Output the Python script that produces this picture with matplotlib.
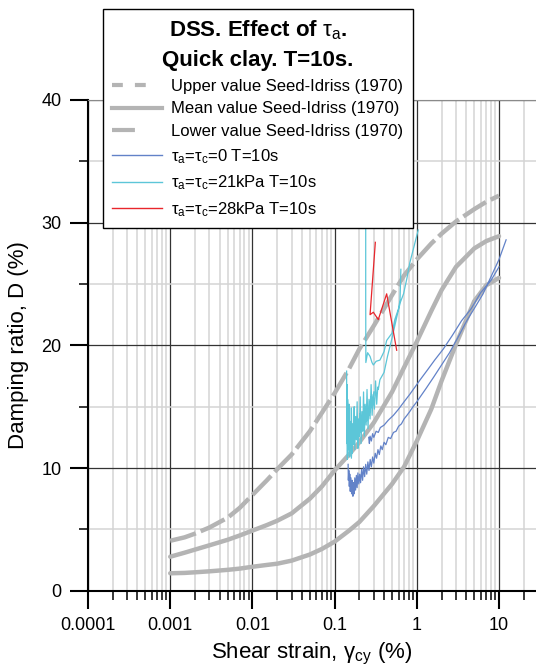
import numpy as np
import matplotlib.pyplot as plt
from matplotlib.lines import Line2D
from matplotlib.ticker import LogLocator, FuncFormatter, MultipleLocator, NullFormatter

plt.rcParams['font.family'] = ['Liberation Sans', 'DejaVu Sans']
plt.rcParams['mathtext.fontset'] = 'custom'
plt.rcParams['mathtext.rm'] = 'Liberation Sans'
plt.rcParams['mathtext.it'] = 'Liberation Sans:italic'
plt.rcParams['mathtext.bf'] = 'Liberation Sans:bold'

# Seed-Idriss (1970) damping range
si_strain = [0.001, 0.0015, 0.002, 0.003, 0.005, 0.007, 0.01, 0.015, 0.02, 0.03, 0.05, 0.07,
             0.1, 0.15, 0.2, 0.3, 0.5, 0.7, 1, 1.5, 2, 3, 5, 7, 10]
si_upper = [4.07, 4.35, 4.65, 5.15, 5.95, 6.75, 7.8, 9.0, 9.9, 11.1, 13.0, 14.5,
            16.1, 18.1, 19.7, 21.6, 24.1, 25.7, 27.0, 28.3, 29.1, 30.1, 31.1, 31.7, 32.2]
si_mean = [2.77, 3.1, 3.35, 3.7, 4.15, 4.5, 4.9, 5.35, 5.7, 6.3, 7.5, 8.5,
           9.8, 11.1, 12.1, 13.7, 16.2, 18.2, 20.3, 22.8, 24.5, 26.4, 27.9, 28.5, 28.9]
si_lower = [1.42, 1.45, 1.5, 1.58, 1.7, 1.8, 1.95, 2.1, 2.2, 2.45, 2.95, 3.4,
            4.0, 4.9, 5.6, 6.9, 8.7, 10.1, 12.2, 14.8, 17.1, 20.1, 23.6, 24.9, 25.5]

# DSS test, tau_a = tau_c = 0 (two loops, separated by nan)
t0_strain = [0.146, 0.147, 0.149, 0.151, 0.153, 0.155, 0.158, 0.161, 0.164, 0.167, 0.170, 0.173,
             0.176, 0.180, 0.184, 0.188, 0.192, 0.197, 0.202, 0.207, 0.213, 0.219, 0.225, 0.232,
             0.239, 0.246, 0.254, 0.262, 0.271, 0.280, 0.290, 0.300, 0.312, 0.324, 0.337, 0.350,
             0.365, 0.380, 0.40, 0.42, 0.45, 0.48, 0.52, 0.56, 0.60, 0.65, 0.70, 0.76, 0.82, 0.90,
             1.0, 1.1, 1.3, 1.6, 2.0, 2.5, 3.2, 4.05, 5.0, 6.4, 8.0, 10.0, 12.2,
             np.nan,
             0.26, 0.265, 0.27, 0.28, 0.29, 0.30, 0.32, 0.34, 0.36, 0.40, 0.45, 0.52, 0.60, 0.70,
             0.82, 0.95, 1.1, 1.35, 1.65, 2.1, 2.7, 3.5, 4.6, 6.0, 8.0, 10.0]
t0_damp = [10.3, 9.0, 9.8, 8.5, 9.5, 8.1, 9.2, 7.9, 9.0, 7.7, 8.8, 7.9,
           9.2, 8.2, 9.4, 8.4, 9.6, 8.7, 9.5, 8.8, 9.9, 9.0, 10.1, 9.3,
           10.3, 9.5, 10.5, 9.8, 10.7, 10.1, 10.9, 10.4, 11.2, 10.8, 11.5, 11.1,
           11.8, 11.5, 12.1, 11.9, 12.5, 12.4, 12.9, 13.0, 13.4, 13.6, 14.0, 14.3, 14.6, 15.0,
           15.4, 15.8, 16.5, 17.4, 18.4, 19.4, 20.7, 22.0, 23.0, 24.2, 25.6, 27.0, 28.6,
           np.nan,
           12.5, 12.0, 12.6, 12.2, 12.8, 12.5, 13.0, 12.9, 13.3, 13.5, 13.9, 14.3, 14.8, 15.4,
           16.0, 16.6, 17.2, 18.0, 18.8, 19.7, 20.8, 22.0, 23.0, 24.3, 25.3, 26.4]

# DSS test, tau_a = tau_c = 21 kPa
t21_strain = [0.140, 0.141, 0.142, 0.143, 0.144, 0.146, 0.148, 0.150, 0.152, 0.155, 0.158, 0.160,
              0.163, 0.166, 0.170, 0.173, 0.176, 0.180, 0.184, 0.188, 0.192, 0.196, 0.200, 0.205,
              0.210, 0.215, 0.220, 0.225, 0.230, 0.236, 0.242, 0.248, 0.255, 0.262, 0.270, 0.278,
              0.286, 0.295, 0.305, 0.315, 0.325, 0.335, 0.340, 0.356, 0.40, 0.44, 0.50, 0.57,
              0.63, 0.69, 0.76, 0.82, 0.92, 1.04,
              np.nan,
              0.142, 0.145, 0.148, 0.152, 0.156, 0.160, 0.165, 0.170, 0.176, 0.182, 0.188, 0.195,
              0.202, 0.210, 0.218, 0.226, 0.235, 0.244, 0.254, 0.264, 0.275, 0.287, 0.300,
              np.nan,
              0.239, 0.239, 0.240, 0.252, 0.27, 0.285, 0.296, 0.32, 0.356, 0.40, 0.43, 0.50, 0.54,
              0.60, 0.625, 0.64]
t21_damp = [17.9, 12.0, 16.8, 10.7, 15.6, 14.5, 11.5, 15.2, 10.9, 13.8, 11.8, 14.9,
            11.2, 13.6, 12.2, 15.0, 11.5, 14.2, 12.3, 15.4, 11.6, 14.0, 12.6, 15.8,
            12.0, 14.6, 13.0, 16.2, 12.6, 15.0, 13.5, 16.4, 13.2, 15.6, 14.0, 16.8,
            14.3, 16.0, 14.8, 17.1, 15.2, 16.6, 16.4, 17.2, 17.8, 19.1, 20.6, 22.3,
            23.5, 24.2, 25.5, 26.7, 28.0, 29.4,
            np.nan,
            13.2, 11.0, 14.0, 11.6, 13.1, 10.8, 12.8, 11.9, 13.9, 12.4, 13.3, 12.1,
            14.4, 12.9, 14.1, 13.3, 15.2, 13.8, 14.9, 14.3, 15.8, 14.9, 16.2,
            np.nan,
            31.4, 24.0, 18.6, 19.4, 19.1, 18.6, 18.4, 18.7, 18.8, 19.5, 20.4, 21.0, 22.1,
            23.0, 23.7, 26.2]

# DSS test, tau_a = tau_c = 28 kPa
t28_strain = [0.313, 0.27, 0.296, 0.34, 0.43, 0.569]
t28_damp = [28.4, 22.5, 22.7, 22.1, 24.2, 19.6]

gray = '#b4b4b4'
c_blue = '#6282c8'
c_cyan = '#5cc6d8'
c_red = '#e8262c'

fig = plt.figure(figsize=(5.36, 6.68), dpi=100)
ax = fig.add_axes([88 / 536, 77.3 / 668, 448 / 536, 490.7 / 668])

ax.plot(si_strain, si_upper, color=gray, lw=3.2, dashes=(6, 1.2))
ax.plot(si_strain, si_mean, color=gray, lw=3.2, solid_capstyle='round')
ax.plot(si_strain, si_lower, color=gray, lw=3.2, solid_capstyle='round')
ax.plot(t0_strain, t0_damp, color=c_blue, lw=0.9)
ax.plot(t21_strain, t21_damp, color=c_cyan, lw=0.9)
ax.plot(t28_strain, t28_damp, color=c_red, lw=0.9)

ax.set_xscale('log')
ax.set_xlim(1e-4, 10 ** 1.4501)
ax.set_ylim(0, 40)

ax.xaxis.set_major_locator(LogLocator(base=10, numticks=20))
ax.xaxis.set_minor_locator(LogLocator(base=10, subs=np.arange(2, 10), numticks=100))
ax.xaxis.set_major_formatter(FuncFormatter(lambda v, p: f'{v:g}'))
ax.xaxis.set_minor_formatter(NullFormatter())
ax.yaxis.set_major_locator(MultipleLocator(10))
ax.yaxis.set_minor_locator(MultipleLocator(5))

ax.grid(which='major', color='#333333', lw=0.9)
ax.grid(which='minor', color='#d4d4d4', lw=1.1)
ax.set_axisbelow(True)

ax.tick_params(which='major', direction='out', length=13, width=1.5, labelsize=13, pad=6,
               top=False, right=False)
ax.tick_params(which='minor', direction='out', length=6.5, width=1.1, top=False, right=False)
ax.spines['right'].set_visible(False)
ax.spines['top'].set_color('#8a8a8a')
ax.spines['left'].set_linewidth(1.5)
ax.spines['bottom'].set_linewidth(1.5)

ax.set_xlabel(r'Shear strain, $\mathrm{\gamma}_{\mathrm{cy}}$ (%)', fontsize=16)
ax.set_ylabel('Damping ratio, D (%)', fontsize=16)
ax.xaxis.set_label_coords(0.5, -50 / 490.7)
ax.yaxis.set_label_coords((29 - 88) / 448, 0.5)

handles = [
    Line2D([], [], color=gray, lw=3, dashes=[2.6, 2.9, 2.6, 40]),
    Line2D([], [], color=gray, lw=3),
    Line2D([], [], color=gray, lw=3, dashes=[5.5, 40]),
    Line2D([], [], color=c_blue, lw=1),
    Line2D([], [], color=c_cyan, lw=1),
    Line2D([], [], color=c_red, lw=1),
]
labels = [
    'Upper value Seed-Idriss (1970)',
    'Mean value Seed-Idriss (1970)',
    'Lower value Seed-Idriss (1970)',
    r'$\mathrm{\tau}_{\mathrm{a}}$=$\mathrm{\tau}_{\mathrm{c}}$=0 T=10s',
    r'$\mathrm{\tau}_{\mathrm{a}}$=$\mathrm{\tau}_{\mathrm{c}}$=21kPa T=10s',
    r'$\mathrm{\tau}_{\mathrm{a}}$=$\mathrm{\tau}_{\mathrm{c}}$=28kPa T=10s',
]
leg = fig.legend(handles, labels, loc='upper left', bbox_to_anchor=(103 / 536, 1 - 9 / 668),
                 borderaxespad=0,
                 title='DSS. Effect of $\\mathrm{\\tau}_{\\mathrm{a}}$.\nQuick clay. T=10s.',
                 title_fontproperties={'weight': 'bold', 'size': 16}, fontsize=12,
                 handlelength=3.0, handletextpad=0.55, borderpad=0.55, labelspacing=0.47,
                 frameon=True, fancybox=False, edgecolor='black', framealpha=1)
leg.get_frame().set_linewidth(1.0)
leg.get_title().set_multialignment('center')
leg.get_title().set_linespacing(1.5)

fig.savefig('out.png', dpi=100)
